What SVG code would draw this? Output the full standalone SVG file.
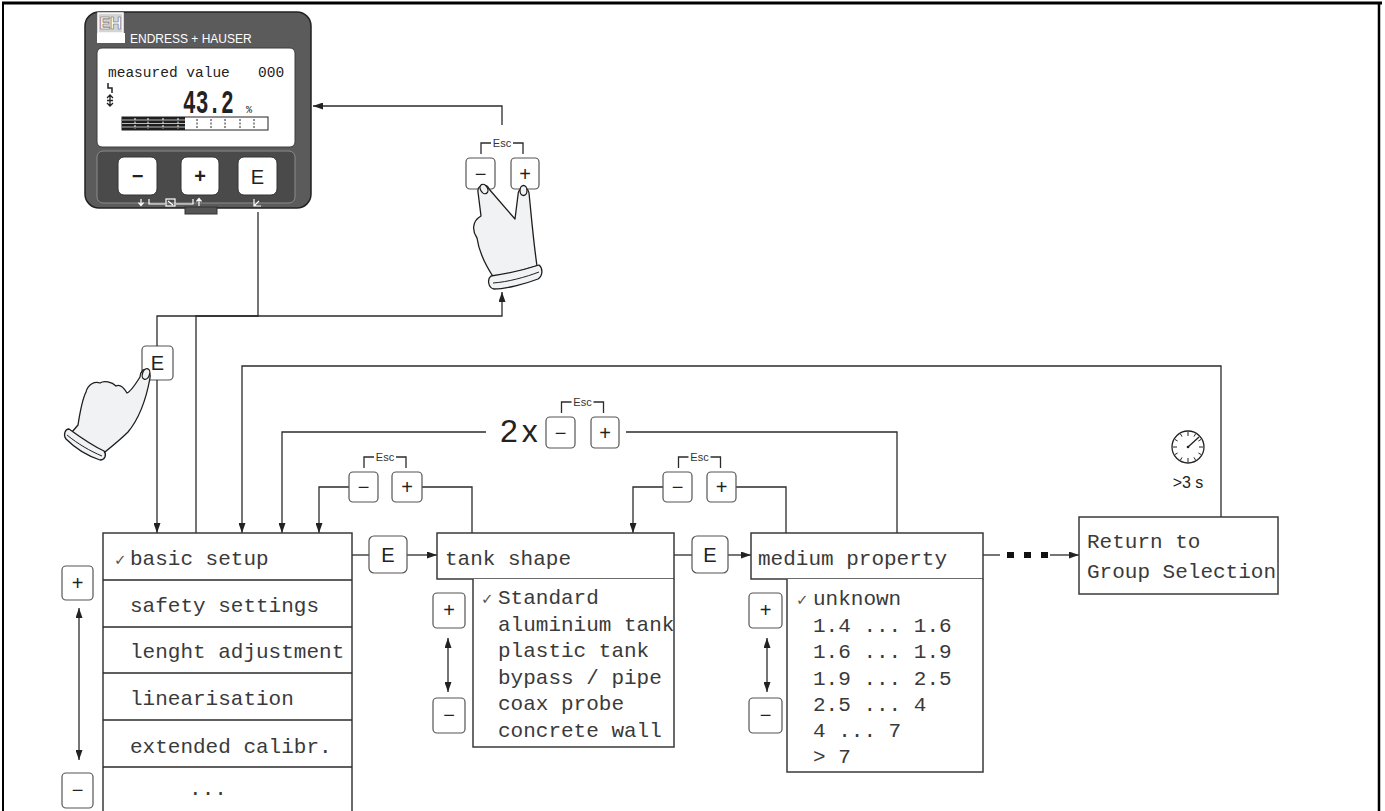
<svg xmlns="http://www.w3.org/2000/svg" width="1385" height="811" viewBox="0 0 1385 811">
<defs>
<style>
.ln{fill:none;stroke:#2b2b2b;stroke-width:1.3}
.box{fill:#fff;stroke:#3a3a3a;stroke-width:1.5}
.key{fill:#fff;stroke:#555;stroke-width:1.2}
.lcd{font-family:"Liberation Mono","DejaVu Sans Mono",monospace;font-size:21px;fill:#3a3a3a}
.kl{font-family:"Liberation Sans",Arial,sans-serif;font-size:20px;fill:#222;text-anchor:middle}
.esc{font-family:"Liberation Sans",Arial,sans-serif;font-size:11px;fill:#333;text-anchor:middle}
.hand{fill:#f1f2f3;stroke:#1e1e1e;stroke-width:1.3;stroke-linejoin:round}
.ck{font-family:"DejaVu Sans",sans-serif;font-size:15px;fill:#555}
.wi{fill:none;stroke:#fff;stroke-width:1.2}
</style>
<marker id="ah" markerWidth="10" markerHeight="7" refX="10" refY="3.5" orient="auto-start-reverse" markerUnits="userSpaceOnUse">
<path d="M0,0 L10,3.5 L0,7 Z" fill="#222"/>
</marker>
<g id="escbr">
<path class="ln" d="M-21,11 V0 H-11 M11,0 H21 V11" stroke-width="1"/>
<text class="esc" x="0" y="4">Esc</text>
</g>
</defs>

<!-- frame -->
<g id="frame" fill="none" stroke="#000">
<path d="M2,3 H1382" stroke-width="3"/>
<path d="M3,3 V811" stroke-width="2"/>
<path d="M1379,3 V811" stroke-width="2.5"/>
</g>

<!-- field device with display and keypad -->
<g id="device">
<rect x="85" y="12" width="226" height="196" rx="14" fill="#5b5b5b" stroke="#222" stroke-width="1.5"/>
<rect x="185" y="207" width="32" height="7" fill="#555" stroke="#333"/>
<rect x="97" y="33" width="28" height="10" fill="#fff"/>
<rect x="98" y="13" width="25" height="20" fill="#d4d4d4" stroke="#fff" stroke-width="1.5"/>
<text x="110.5" y="29" font-family="Liberation Sans,Arial,sans-serif" font-size="16" font-weight="bold" fill="#fff" stroke="#666" stroke-width="0.6" text-anchor="middle">EH</text>
<text x="130" y="43" font-family="Liberation Sans,Arial,sans-serif" font-size="12" fill="#fff">ENDRESS + HAUSER</text>
<rect x="97" y="48" width="198" height="99" rx="5" fill="#fff" stroke="#3c3c3c"/>
<text x="108" y="77" font-family="Liberation Mono,monospace" font-size="14.5" fill="#222">measured value</text>
<text x="258" y="77" font-family="Liberation Mono,monospace" font-size="14.5" fill="#222">000</text>
<text transform="translate(183 113) scale(0.64 1)" font-family="Liberation Mono,monospace" font-size="33" font-weight="bold" fill="#222">43.2</text>
<text x="246" y="113" font-family="Liberation Mono,monospace" font-size="10" fill="#222">%</text>
<path d="M108,83 V88 H112 V93" fill="none" stroke="#222" stroke-width="1.5"/>
<path d="M110,95 V106 M107,98 L110,95 L113,98 M107,103 L110,106 L113,103 M107,100.5 H113" fill="none" stroke="#222" stroke-width="1.3"/>
<rect x="122" y="117" width="146" height="13" fill="#fff" stroke="#222"/>
<rect x="122" y="117" width="63" height="13" fill="#1e1e1e"/>
<path d="M122,120 H185 M122,123.5 H185 M122,127 H185" stroke="#fff" stroke-width="0.7"/>
<path d="M135,118 V129 M148,118 V129 M163,118 V129 M178,118 V129" stroke="#fff" stroke-width="1" stroke-dasharray="2,1.5"/>
<path d="M197,119 V128 M211,119 V128 M225,119 V128 M240,119 V128 M254,119 V128" stroke="#222" stroke-width="1" stroke-dasharray="2,1.5"/>
<rect x="97" y="151" width="198" height="52" rx="6" fill="#4a4a4a" stroke="#8c8c8c"/>
<rect x="118" y="157" width="39" height="38" rx="6" fill="#fff" stroke="#333"/>
<rect x="181" y="157" width="38" height="38" rx="6" fill="#fff" stroke="#333"/>
<rect x="238" y="157" width="39" height="38" rx="6" fill="#fff" stroke="#333"/>
<text class="kl" x="137.5" y="183" font-size="22" font-weight="bold">−</text>
<text class="kl" x="200" y="183" font-size="22" font-weight="bold">+</text>
<text class="kl" x="257.5" y="184" font-size="22">E</text>
<path class="wi" d="M141,199 V205 M138.5,202.5 L141,205.5 L143.5,202.5 M149,199 V204 H165 M176,204 H193 V199 M199,206 V199 M196.5,201.5 L199,198.5 L201.5,201.5"/>
<rect x="166" y="199" width="9" height="7" class="wi"/>
<path class="wi" d="M168,201 L173,205 M254,199 V206 H261 M254,206 L259,201"/>
</g>

<!-- Esc key pair with hand (return to measured value) -->
<g id="esc-hand">
<use href="#escbr" x="502" y="143"/>
<rect class="key" x="466" y="158" width="29" height="31" rx="4"/>
<rect class="key" x="511" y="158" width="28" height="31" rx="4"/>
<text class="kl" x="480.5" y="181">−</text>
<text class="kl" x="525" y="181">+</text>
<path class="hand" d="M478,192 C477,185 487,183 489,189 L515,219 L518,195 C518,187 528,186 529,193 C531,212 533,238 537,266 L494,278 C486,266 479,252 477,238 C472,231 472,221 481,216 C480,208 479,200 478,192 Z"/>
<ellipse class="hand" cx="484" cy="189" rx="3.5" ry="5" transform="rotate(-30 484 189)"/>
<ellipse class="hand" cx="523.5" cy="190.5" rx="3.5" ry="5"/>
<path class="hand" d="M491,276 C505,274 527,269 539,265 C543,268 543,276 538,279 C525,284 506,289 494,289 C488,288 487,279 491,276 Z"/>
<path d="M493,283 C508,282 526,277 539,272" fill="none" stroke="#1e1e1e" stroke-width="1"/>
</g>

<!-- E key with hand (enter group selection) -->
<g id="e-hand">
<rect class="key" x="142" y="346" width="31" height="34" rx="4"/>
<text class="kl" x="157.5" y="370">E</text>
<path class="hand" d="M140,377 C135,385 130,392 127,393 C124,388 120,384 116,386 C112,382 104,380 100,383 C95,381 88,384 86,392 C82,400 80,412 78,425 L72,432 L100,456 C110,448 120,440 128,432 C138,420 146,400 150,378 C151,371 146,368 143,370 C141,372 140,375 140,377 Z"/>
<ellipse class="hand" cx="146" cy="374" rx="3.5" ry="5.5" transform="rotate(20 146 374)"/>
<path class="hand" d="M69,429 C80,437 93,446 104,451 C107,455 105,460 100,460 C88,456 75,448 66,439 C63,435 65,429 69,429 Z"/>
<path d="M67,435 C78,444 90,451 102,456" fill="none" stroke="#1e1e1e" stroke-width="1"/>
</g>

<!-- connectors -->
<g id="connectors" class="ln">
<path d="M258,212 V316 H157 V346"/>
<path d="M157,380 V533" marker-end="url(#ah)"/>
<path d="M196,533 V316 H502 V292" marker-end="url(#ah)"/>
<path d="M502,125 V106 H313" marker-end="url(#ah)"/>
<path d="M1221,517 V366 H242 V533" marker-end="url(#ah)"/>
<path d="M897,533 V432 H626"/>
<path d="M486,432 H282 V533" marker-end="url(#ah)"/>
<path d="M472,533 V487 H422"/>
<path d="M349,487 H319 V533" marker-end="url(#ah)"/>
<path d="M786,533 V487 H736"/>
<path d="M663,487 H633 V533" marker-end="url(#ah)"/>
<path d="M352,555 H369"/>
<path d="M407,555 H437" marker-end="url(#ah)"/>
<path d="M674,555 H692"/>
<path d="M728,555 H751" marker-end="url(#ah)"/>
<path d="M983,555 H1000"/>
<path d="M1050,555 H1079" marker-end="url(#ah)"/>
<path d="M79,608 V760" marker-start="url(#ah)" marker-end="url(#ah)"/>
<path d="M448,638 V692" marker-start="url(#ah)" marker-end="url(#ah)"/>
<path d="M767,638 V692" marker-start="url(#ah)" marker-end="url(#ah)"/>
</g>
<g id="skip-dots" fill="#111">
<rect x="1007" y="552" width="7" height="6"/>
<rect x="1024" y="552" width="7" height="6"/>
<rect x="1041" y="552" width="7" height="6"/>
</g>

<!-- Esc x2 back to group selection -->
<g id="esc-twice">
<text x="500" y="442" font-family="Liberation Sans,Arial,sans-serif" font-size="32" fill="#222" letter-spacing="4">2x</text>
<use href="#escbr" x="582.5" y="402"/>
<rect class="key" x="546" y="417" width="29" height="31" rx="4"/>
<rect class="key" x="591" y="417" width="28" height="31" rx="4"/>
<text class="kl" x="560.5" y="440">−</text>
<text class="kl" x="605" y="440">+</text>
</g>

<g id="esc-tank">
<use href="#escbr" x="385" y="457"/>
<rect class="key" x="349" y="472" width="29" height="30" rx="4"/>
<rect class="key" x="392" y="472" width="30" height="30" rx="4"/>
<text class="kl" x="363.5" y="494">−</text>
<text class="kl" x="407" y="494">+</text>
</g>

<g id="esc-medium">
<use href="#escbr" x="699.5" y="457"/>
<rect class="key" x="663" y="472" width="29" height="30" rx="4"/>
<rect class="key" x="707" y="472" width="29" height="30" rx="4"/>
<text class="kl" x="677.5" y="494">−</text>
<text class="kl" x="721.5" y="494">+</text>
</g>

<!-- group selection list -->
<g id="group-list">
<path class="box" d="M103,811 V533 H352 V811"/>
<path class="ln" d="M103,580 H352 M103,627 H352 M103,673 H352 M103,720 H352 M103,767 H352" stroke-width="1.5"/>
<text class="lcd" x="114" y="565"><tspan class="ck">✓</tspan><tspan x="130">basic setup</tspan></text>
<text class="lcd" x="130" y="612">safety settings</text>
<text class="lcd" x="130" y="658">lenght adjustment</text>
<text class="lcd" x="130" y="705">linearisation</text>
<text class="lcd" x="130" y="753">extended calibr.</text>
<text class="lcd" x="208" y="795" text-anchor="middle">...</text>
<rect class="key" x="62" y="566" width="31" height="34" rx="4"/>
<text class="kl" x="77.5" y="590">+</text>
<rect class="key" x="62" y="773" width="31" height="35" rx="4"/>
<text class="kl" x="77.5" y="797">−</text>
</g>

<g id="enter-1">
<rect class="key" x="369" y="536" width="38" height="37" rx="5"/>
<text class="kl" x="388" y="562">E</text>
</g>

<!-- tank shape -->
<g id="tank-shape">
<rect class="box" x="437" y="533" width="237" height="46"/>
<text class="lcd" x="445" y="565">tank shape</text>
<path class="box" d="M473,579 V747 H674 V579"/>
<text class="lcd" x="481" y="604"><tspan class="ck">✓</tspan><tspan x="498">Standard</tspan></text>
<text class="lcd" x="498" y="630.6">aluminium tank</text>
<text class="lcd" x="498" y="657.2">plastic tank</text>
<text class="lcd" x="498" y="683.8">bypass / pipe</text>
<text class="lcd" x="498" y="710.4">coax probe</text>
<text class="lcd" x="498" y="737">concrete wall</text>
<rect class="key" x="433" y="593" width="32" height="35" rx="4"/>
<text class="kl" x="449" y="617">+</text>
<rect class="key" x="433" y="698" width="32" height="35" rx="4"/>
<text class="kl" x="449" y="722">−</text>
</g>

<g id="enter-2">
<rect class="key" x="692" y="536" width="36" height="37" rx="5"/>
<text class="kl" x="710" y="562">E</text>
</g>

<!-- medium property -->
<g id="medium-property">
<rect class="box" x="751" y="533" width="232" height="46"/>
<text class="lcd" x="758" y="565">medium property</text>
<path class="box" d="M787,579 V772 H983 V579"/>
<text class="lcd" x="796" y="605"><tspan class="ck">✓</tspan><tspan x="813">unknown</tspan></text>
<text class="lcd" x="813" y="631.5">1.4 ... 1.6</text>
<text class="lcd" x="813" y="658">1.6 ... 1.9</text>
<text class="lcd" x="813" y="684.5">1.9 ... 2.5</text>
<text class="lcd" x="813" y="711">2.5 ... 4</text>
<text class="lcd" x="813" y="737">4 ... 7</text>
<text class="lcd" x="813" y="763">&gt; 7</text>
<rect class="key" x="749" y="593" width="33" height="35" rx="4"/>
<text class="kl" x="765.5" y="617">+</text>
<rect class="key" x="749" y="698" width="33" height="35" rx="4"/>
<text class="kl" x="765.5" y="722">−</text>
</g>

<!-- return after timeout -->
<g id="timer">
<circle cx="1188" cy="447" r="16" fill="#fff" stroke="#222" stroke-width="1.3"/>
<g stroke="#222" stroke-width="1">
<path d="M1188,432 V436 M1188,458 V462 M1173,447 H1177 M1199,447 H1203 M1195.5,434 L1194,436.6 M1180.5,460 L1182,457.4 M1201,439.5 L1198.4,441 M1175,454.5 L1177.6,453 M1201,454.5 L1198.4,453 M1175,439.5 L1177.6,441 M1195.5,460 L1194,457.4 M1180.5,434 L1182,436.6"/>
<path d="M1188,447 L1199,437" stroke-width="1.3"/>
</g>
<circle cx="1188" cy="447" r="1.3" fill="#222"/>
<text x="1188" y="488" font-family="Liberation Sans,Arial,sans-serif" font-size="16" fill="#222" text-anchor="middle">&gt;3 s</text>
</g>

<g id="return-group">
<rect class="box" x="1079" y="517" width="199" height="77"/>
<text class="lcd" x="1087" y="548">Return to</text>
<text class="lcd" x="1087" y="578">Group Selection</text>
</g>
</svg>
